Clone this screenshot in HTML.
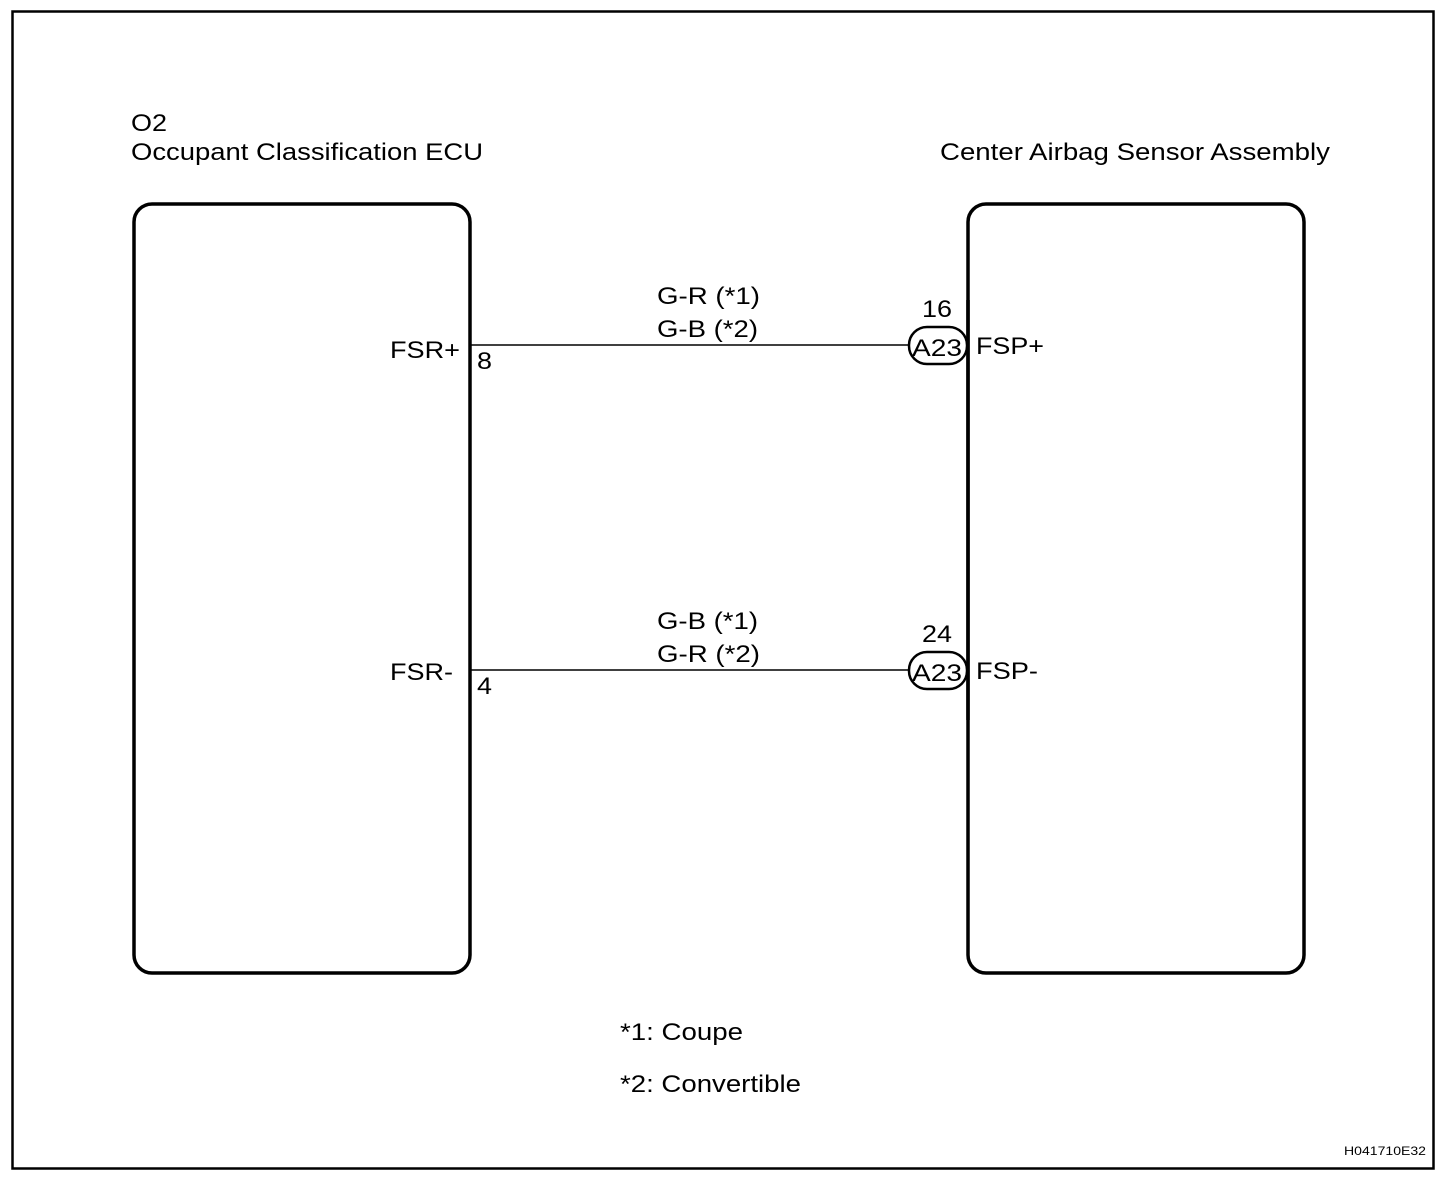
<!DOCTYPE html>
<html><head><style>
html,body{margin:0;padding:0;background:#fff;}
svg{display:block;}
text{font-family:"Liberation Sans",sans-serif;font-size:24px;fill:#000;}
</style></head><body>
<svg width="1456" height="1186" viewBox="0 0 1456 1186" xmlns="http://www.w3.org/2000/svg">
<rect x="12.5" y="11.5" width="1421" height="1157" fill="none" stroke="#000" stroke-width="2.5"/>
<rect x="134" y="204" width="336" height="769" rx="18" ry="18" fill="none" stroke="#000" stroke-width="3.5"/>
<rect x="968" y="204" width="336" height="769" rx="18" ry="18" fill="none" stroke="#000" stroke-width="3.5"/>
<text x="131" y="131" textLength="36" lengthAdjust="spacingAndGlyphs">O2</text>
<text x="131" y="160" textLength="352" lengthAdjust="spacingAndGlyphs">Occupant Classification ECU</text>
<text x="940" y="160" textLength="390" lengthAdjust="spacingAndGlyphs">Center Airbag Sensor Assembly</text>
<line x1="471" y1="345" x2="910" y2="345" stroke="#000" stroke-width="1.5"/>
<line x1="471" y1="670" x2="910" y2="670" stroke="#000" stroke-width="1.5"/>
<rect x="909" y="327" width="58" height="37" rx="18" ry="18" fill="#fff" stroke="#000" stroke-width="2.5"/>
<rect x="909" y="652" width="58" height="37" rx="18" ry="18" fill="#fff" stroke="#000" stroke-width="2.5"/>
<line x1="968" y1="300" x2="968" y2="720" stroke="#000" stroke-width="3.5"/>
<text x="912" y="356" textLength="50" lengthAdjust="spacingAndGlyphs">A23</text>
<text x="912" y="681" textLength="50" lengthAdjust="spacingAndGlyphs">A23</text>
<text x="922" y="317" textLength="30" lengthAdjust="spacingAndGlyphs">16</text>
<text x="922" y="642" textLength="30" lengthAdjust="spacingAndGlyphs">24</text>
<text x="976" y="354" textLength="68" lengthAdjust="spacingAndGlyphs">FSP+</text>
<text x="976" y="679" textLength="62" lengthAdjust="spacingAndGlyphs">FSP-</text>
<text x="390" y="358" textLength="70" lengthAdjust="spacingAndGlyphs">FSR+</text>
<text x="390" y="680" textLength="63" lengthAdjust="spacingAndGlyphs">FSR-</text>
<text x="477" y="369" textLength="15" lengthAdjust="spacingAndGlyphs">8</text>
<text x="477" y="694" textLength="15" lengthAdjust="spacingAndGlyphs">4</text>
<text x="657" y="304" textLength="103" lengthAdjust="spacingAndGlyphs">G-R (*1)</text>
<text x="657" y="337" textLength="101" lengthAdjust="spacingAndGlyphs">G-B (*2)</text>
<text x="657" y="629" textLength="101" lengthAdjust="spacingAndGlyphs">G-B (*1)</text>
<text x="657" y="662" textLength="103" lengthAdjust="spacingAndGlyphs">G-R (*2)</text>
<text x="620" y="1040" textLength="123" lengthAdjust="spacingAndGlyphs">*1: Coupe</text>
<text x="620" y="1092" textLength="181" lengthAdjust="spacingAndGlyphs">*2: Convertible</text>
<text x="1344" y="1155" style="font-size:12px" textLength="82" lengthAdjust="spacingAndGlyphs">H041710E32</text>
</svg>
</body></html>
